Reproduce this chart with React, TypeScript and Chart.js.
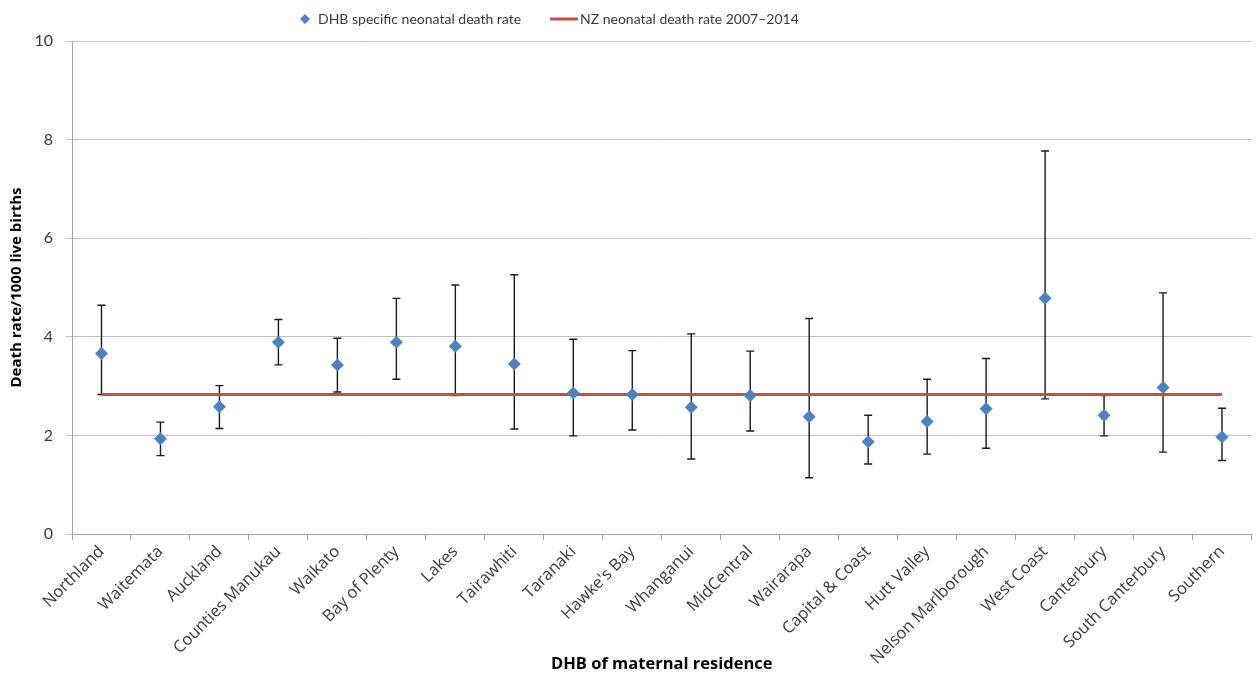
import React, { useEffect, useRef } from 'react';
import { Chart, registerables } from 'chart.js';

Chart.register(...registerables);

const categories = [
  'Northland', 'Waitemata', 'Auckland', 'Counties Manukau', 'Waikato', 'Bay of Plenty',
  'Lakes', 'Tairawhiti', 'Taranaki', "Hawke's Bay", 'Whanganui', 'MidCentral',
  'Wairarapa', 'Capital & Coast', 'Hutt Valley', 'Nelson Marlborough', 'West Coast',
  'Canterbury', 'South Canterbury', 'Southern',
];
const dhbRates = [3.66, 1.93, 2.58, 3.89, 3.43, 3.89, 3.81, 3.45, 2.86, 2.83, 2.57, 2.81, 2.38, 1.87, 2.28, 2.54, 4.78, 2.41, 2.97, 1.97];
const upperCI = [4.64, 2.27, 3.01, 4.35, 3.97, 4.78, 5.05, 5.26, 3.95, 3.72, 4.06, 3.71, 4.37, 2.41, 3.14, 3.56, 7.77, 2.81, 4.89, 2.55];
const lowerCI = [2.83, 1.59, 2.14, 3.43, 2.88, 3.14, 2.81, 2.13, 1.99, 2.11, 1.52, 2.09, 1.14, 1.42, 1.62, 1.74, 2.74, 1.99, 1.66, 1.49];
const nzRate = 2.83;
const nzRates = categories.map(() => nzRate);
const legendLabels = ['DHB specific neonatal death rate', 'NZ neonatal death rate 2007\u20132014'];

const FONT = 'Lato, "Open Sans", sans-serif';
const WIDE_FONT = '"Open Sans", Lato, sans-serif';
const BLUE = '#4F81BD';
const RED = '#C0504D';
const TEXT = '#3a3a3a';

const errorBarPlugin = {
  id: 'errorBars',
  beforeDatasetsDraw(chart: any) {
    const { ctx, scales } = chart;
    const x = scales.x;
    const y = scales.y;
    ctx.save();
    ctx.strokeStyle = '#1a1a1a';
    ctx.lineWidth = 1.4;
    for (let i = 0; i < categories.length; i++) {
      const px = x.getPixelForValue(i);
      const top = y.getPixelForValue(upperCI[i]);
      const bot = y.getPixelForValue(lowerCI[i]);
      ctx.beginPath();
      ctx.moveTo(px, top);
      ctx.lineTo(px, bot);
      ctx.moveTo(px - 4, top);
      ctx.lineTo(px + 4, top);
      ctx.moveTo(px - 4, bot);
      ctx.lineTo(px + 4, bot);
      ctx.stroke();
    }
    ctx.restore();
  },
};

const legendPlugin = {
  id: 'customLegend',
  afterDraw(chart: any) {
    const { ctx } = chart;
    ctx.save();
    ctx.font = `14px ${FONT}`;
    ctx.textBaseline = 'middle';
    ctx.textAlign = 'left';
    const cy = 19;
    ctx.beginPath();
    ctx.moveTo(305, cy - 5);
    ctx.lineTo(310, cy);
    ctx.lineTo(305, cy + 5);
    ctx.lineTo(300, cy);
    ctx.closePath();
    ctx.fillStyle = BLUE;
    ctx.fill();
    ctx.fillStyle = TEXT;
    ctx.fillText(legendLabels[0], 318, cy);
    ctx.beginPath();
    ctx.strokeStyle = RED;
    ctx.lineWidth = 3;
    ctx.moveTo(550, cy);
    ctx.lineTo(578, cy);
    ctx.stroke();
    ctx.fillText(legendLabels[1], 580, cy);
    ctx.restore();
  },
};

export default function App() {
  const canvasRef = useRef<HTMLCanvasElement | null>(null);

  useEffect(() => {
    if (!canvasRef.current) return;
    const chart = new Chart(canvasRef.current, {
      type: 'line',
      data: {
        labels: categories,
        datasets: [
          {
            label: legendLabels[0],
            data: dhbRates,
            showLine: false,
            pointStyle: 'rectRot',
            pointRadius: 6.5,
            pointHoverRadius: 6.5,
            pointBackgroundColor: BLUE,
            pointBorderColor: BLUE,
            pointBorderWidth: 0,
            borderColor: BLUE,
            backgroundColor: BLUE,
            order: 1,
          },
          {
            label: legendLabels[1],
            data: nzRates,
            borderColor: RED,
            backgroundColor: RED,
            borderWidth: 3,
            pointRadius: 0,
            pointHoverRadius: 0,
            order: 2,
          },
        ],
      },
      options: {
        animation: false,
        responsive: true,
        maintainAspectRatio: false,
        layout: { padding: { top: 41, right: 5, left: 0, bottom: 0 } },
        plugins: {
          legend: { display: false },
          tooltip: { enabled: false },
        },
        scales: {
          x: {
            offset: true,
            grid: {
              display: true,
              offset: true,
              drawOnChartArea: false,
              drawTicks: true,
              tickLength: 6,
              color: '#A6A6A6',
            },
            border: { display: true, color: '#A6A6A6' },
            ticks: {
              maxRotation: 45,
              minRotation: 45,
              autoSkip: false,
              padding: 2,
              color: TEXT,
              font: { family: WIDE_FONT, size: 16.5 },
            },
            title: {
              display: true,
              text: 'DHB of maternal residence',
              color: '#000000',
              font: { family: WIDE_FONT, size: 16.5, weight: 'bold' },
              padding: { top: 4, bottom: 5 },
            },
            afterFit(scale: any) {
              scale.height = 145;
            },
          },
          y: {
            min: 0,
            max: 10,
            ticks: {
              stepSize: 2,
              padding: 13,
              color: TEXT,
              font: { family: FONT, size: 16 },
            },
            grid: {
              color: '#BFBFBF',
              lineWidth: 1,
              tickLength: 6,
              drawTicks: true,
            },
            border: { display: true, color: '#A6A6A6', width: 1 },
            title: {
              display: true,
              text: 'Death rate/1000 live births',
              color: '#000000',
              font: { family: WIDE_FONT, size: 15, weight: 'bold' },
              padding: { top: 8, bottom: 4 },
            },
            afterFit(scale: any) {
              scale.width = 72;
            },
          },
        },
      },
      plugins: [errorBarPlugin, legendPlugin],
    });
    return () => chart.destroy();
  }, []);

  return (
    <div style={{ position: 'fixed', left: 0, top: 0, width: 1258, height: 679, background: '#ffffff' }}>
      <canvas ref={canvasRef} />
    </div>
  );
}
